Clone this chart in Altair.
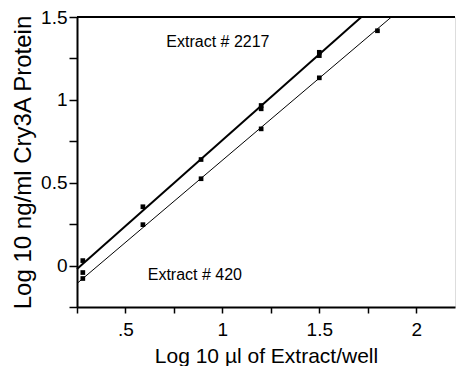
import altair as alt
import pandas as pd

# Data
pts_2217_x = [0.28, 0.59, 0.89, 1.20, 1.20, 1.50, 1.50]
pts_2217_y = [0.03, 0.355, 0.64, 0.966, 0.946, 1.287, 1.267]
pts_420_x = [0.28, 0.28, 0.59, 0.89, 1.20, 1.50, 1.80]
pts_420_y = [-0.042, -0.078, 0.247, 0.524, 0.825, 1.133, 1.417]

fit_2217_x = [0.25, 1.717]
fit_2217_y = [-0.02, 1.5]
fit_420_x = [0.25, 1.872]
fit_420_y = [-0.108, 1.5]

ann_text = ["Extract # 2217", "Extract # 420"]
ann_x = [0.977, 0.858]
ann_y = [1.35, -0.055]

x_ticks = [0.25, 0.5, 0.75, 1.0, 1.25, 1.5, 1.75, 2.0]
x_major = [0.5, 1.0, 1.5, 2.0]
x_major_labels = [".5", "1", "1.5", "2"]
y_ticks = [-0.25, 0.0, 0.25, 0.5, 0.75, 1.0, 1.25, 1.5]
y_major = [0.0, 0.5, 1.0, 1.5]
y_major_labels = ["0", "0.5", "1", "1.5"]

X_DOMAIN = [0.25, 2.2]
Y_DOMAIN = [-0.25, 1.5]
FONT = "Liberation Sans"


def label_expr(vals, labels):
    expr = "''"
    for v, l in reversed(list(zip(vals, labels))):
        expr = f"datum.value == {v} ? '{l}' : ({expr})"
    return expr


pts = pd.DataFrame({
    "x": pts_2217_x + pts_420_x,
    "y": pts_2217_y + pts_420_y,
    "s": ["2217"] * len(pts_2217_x) + ["420"] * len(pts_420_x),
})
fit_a = pd.DataFrame({"x": fit_2217_x, "y": fit_2217_y})
fit_b = pd.DataFrame({"x": fit_420_x, "y": fit_420_y})
ann = pd.DataFrame({"t": ann_text, "x": ann_x, "y": ann_y})

xscale = alt.Scale(domain=X_DOMAIN, nice=False, zero=False)
yscale = alt.Scale(domain=Y_DOMAIN, nice=False, zero=False)

common = dict(
    grid=False, domain=True, domainColor="black", domainWidth=2,
    ticks=True, tickColor="black", tickWidth=1.5,
    labelColor="black", titleColor="black", labelFont=FONT, titleFont=FONT,
    titleFontWeight="normal", labelFlush=False, labelOverlap=False,
)

xaxis = alt.Axis(
    values=x_ticks,
    labelExpr=label_expr(x_major, x_major_labels),
    tickSize=6,
    title="Log 10 µl of Extract/well",
    titleFontSize=21, titlePadding=6,
    labelFontSize=19, labelPadding=7,
    **common,
)
yaxis = alt.Axis(
    values=y_ticks,
    labelExpr=label_expr(y_major, y_major_labels),
    tickSize=8,
    title="Log 10 ng/ml Cry3A Protein",
    titleFontSize=24, titlePadding=5,
    labelFontSize=19, labelPadding=2,
    **common,
)

base_x = alt.X("x:Q", scale=xscale, axis=xaxis)
base_y = alt.Y("y:Q", scale=yscale, axis=yaxis)

line_a = alt.Chart(fit_a).mark_line(color="black", strokeWidth=2).encode(x=base_x, y=base_y)
line_b = alt.Chart(fit_b).mark_line(color="black", strokeWidth=1).encode(x="x:Q", y="y:Q")
points = alt.Chart(pts).mark_square(color="black", size=22, opacity=1).encode(x="x:Q", y="y:Q")
top_rule = alt.Chart(ann).mark_rule(color="black", strokeWidth=2).encode(y=alt.datum(1.5))
labels = alt.Chart(ann).mark_text(font=FONT, fontSize=16, color="black", align="center").encode(
    x="x:Q", y="y:Q", text="t:N"
)

chart = (
    alt.layer(line_a, line_b, points, top_rule, labels)
    .properties(width=378, height=290, padding={"left": 3, "top": 0, "right": 0, "bottom": 0})
    .configure_view(stroke=None)
    .configure(background="white")
)

chart.save("out.html", embed_options={"renderer": "svg", "actions": False})
